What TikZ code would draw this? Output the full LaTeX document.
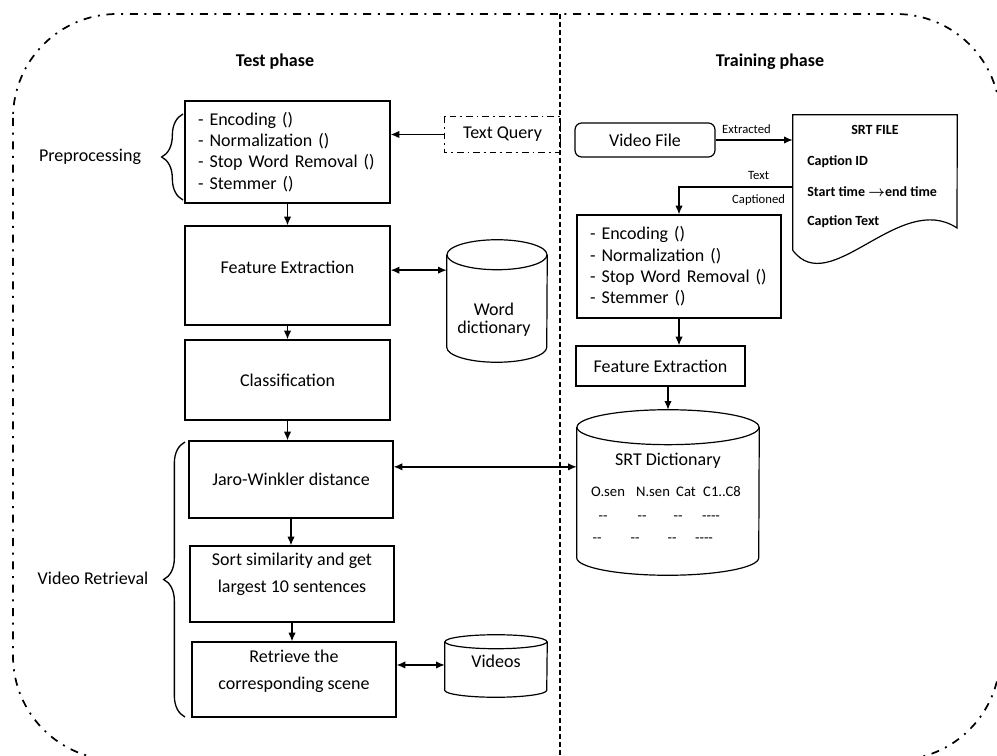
\documentclass[tikz,border=0pt]{standalone}
\usepackage{amsmath}
\usepackage{fontspec}
\setmainfont{Carlito}
\usepackage[svgnames]{xcolor}
\usepackage{tikz}
\usetikzlibrary{decorations.pathreplacing,arrows.meta}
\tikzstyle{none}=[inner sep=0pt]
\tikzstyle{simple}=[-,draw=Black,line width=0.9pt]
\tikzstyle{box}=[rectangle,draw=Black,inner sep=0pt,line width=0.9pt]
\tikzstyle{listbox}=[box,align=left,inner xsep=9.75pt]
\tikzstyle{flow}=[-{Latex[length=6.5pt,width=5.5pt]},draw=Black,line width=1pt]
\tikzstyle{both}=[{Latex[length=6.5pt,width=5.5pt]}-{Latex[length=6.5pt,width=5.5pt]},draw=Black,line width=1pt]
\tikzstyle{bracket}=[draw=Black,line width=1pt,decorate,decoration={brace,amplitude=16pt}]
\tikzstyle{dashdot}=[draw=Black,line width=1.3pt,dash pattern=on 6pt off 5pt on 1.5pt off 5pt]
\tikzstyle{divider}=[draw=Black,line width=1pt,dash pattern=on 3.5pt off 2.5pt]
\tikzstyle{tiny}=[inner sep=0pt,font=\fontsize{9.5}{11}\selectfont]
\tikzstyle{cell}=[inner sep=0pt,font=\fontsize{11}{13}\selectfont]
\tikzstyle{title}=[inner sep=0pt,font=\fontsize{13.5}{16}\selectfont\bfseries]
\tikzstyle{srt}=[inner sep=0pt,anchor=west,font=\fontsize{10.5}{12}\selectfont\bfseries]
% cylinder drawn round an empty node: #1 node, #2 x radius, #3 y radius
\newcommand{\drum}[3]{%
  \draw [style=simple] ([yshift=-#3]#1.north west) -- ([yshift=#3]#1.south west)
    arc [start angle=180,end angle=360,x radius=#2,y radius=#3] -- ([yshift=-#3]#1.north east);
  \draw [style=simple] ([yshift=-#3]#1.north) ellipse [x radius=#2,y radius=#3];}

\begin{document}
\begin{tikzpicture}[x=0.75pt,y=-0.75pt,every node/.style={font=\fontsize{13.5}{16}\selectfont}]
  \useasboundingbox (0,0) rectangle (997,756);
  % frame and split
  \draw [style=dashdot,rounded corners=78pt] (13,14) rectangle (1000,760);
  \draw [style=divider] (560,14) -- (560,756);
  \node [style=title] (0) at (275,62) {Test phase};
  \node [style=title] (1) at (770,62) {Training phase};
  % test phase
  \node [style=listbox,text width=134.25pt,minimum height=76.5pt] (2) at (287.5,152) {- Encoding ()\\- Normalization ()\\- Stop Word Removal ()\\- Stemmer ()};
  \node [style=box,minimum width=153.75pt,minimum height=74.25pt,text depth=13pt] (3) at (287.5,275.5) {Feature Extraction};
  \node [style=box,minimum width=153.75pt,minimum height=60pt] (4) at (287.5,380) {Classification};
  \node [style=box,minimum width=153pt,minimum height=57.75pt] (5) at (291,479.5) {Jaro-Winkler distance};
  \node [style=box,minimum width=153pt,minimum height=57pt,align=center,font=\fontsize{13.5}{20}\selectfont,text depth=17pt] (6) at (292,584) {Sort similarity and get\\largest 10 sentences};
  \node [style=box,minimum width=153pt,minimum height=56.25pt,align=center,font=\fontsize{13.5}{20}\selectfont,text depth=15pt] (7) at (294,679.5) {Retrieve the\\corresponding scene};
  \node [style=box,draw=none,minimum width=86.25pt,minimum height=26.25pt] (8) at (502.5,134.5) {Text Query};
  \draw [draw=Black,line width=1pt,dash pattern=on 5pt off 3pt on 1.2pt off 3pt] (8.north west) rectangle (8.south east);
  \node [style=none,minimum width=75pt,minimum height=91.5pt] (9) at (497,301) {};
  \drum{9}{37.5pt}{11.25pt}
  \node [style=none,align=center,font=\fontsize{13.5}{13.5}\selectfont] (10) at (494,320) {Word\\dictionary};
  \node [style=none,minimum width=76.5pt,minimum height=46.5pt] (11) at (496,666) {};
  \drum{11}{38.25pt}{5.25pt}
  \node [style=none] (12) at (496,661) {Videos};
  \node [style=none] (13) at (90,157) {Preprocessing};
  \node [style=none] (14) at (93,578) {Video Retrieval};
  \draw [style=bracket] (183,200) -- (183,114);
  \draw [style=bracket] (185,717) -- (185,442);
  \draw [style=flow] (8.west) -- (8.west -| 2.east);
  \draw [style=flow] (2.south) -- (2.south |- 3.north);
  \draw [style=flow] (3.south) -- (3.south |- 4.north);
  \draw [style=flow] (4.south) -- (4.south |- 5.north);
  \draw [style=flow] (5.south) -- (5.south |- 6.north);
  \draw [style=flow] (6.south) -- (6.south |- 7.north);
  \draw [style=both] ([yshift=4pt]3.east) -- ([yshift=4pt]3.east -| 9.west);
  \draw [style=both] ([yshift=10.9pt]7.east) -- ([yshift=10.9pt]7.east -| 11.west);
  % training phase
  \node [style=box,rounded corners=5pt,minimum width=105pt,minimum height=25.5pt] (15) at (645,140) {Video File};
  \node [style=none,minimum width=123pt,minimum height=101.25pt] (16) at (875,182.5) {};
  \draw [style=simple] (16.south west) -- (16.north west) -- (16.north east) -- (957,228) .. controls (900,190) and (830,300) .. (16.south west);
  \node [style=title,font=\fontsize{10.5}{12}\selectfont\bfseries] (17) at (875,130) {SRT FILE};
  \node [style=srt] (18) at (807,162) {Caption ID};
  \node [style=srt] (19) at (807,192) {Start time $\boldsymbol{\rightarrow}$end time};
  \node [style=srt] (20) at (807,222) {Caption Text};
  \node [style=listbox,text width=133.5pt,minimum height=77.25pt] (21) at (679,266.5) {- Encoding ()\\- Normalization ()\\- Stop Word Removal ()\\- Stemmer ()};
  \node [style=box,minimum width=126.75pt,minimum height=30pt] (22) at (660.5,366) {Feature Extraction};
  \node [style=none,minimum width=136.5pt,minimum height=123.75pt] (23) at (668,492.5) {};
  \drum{23}{68.25pt}{13.1pt}
  \node [style=none] (24) at (668,461) {SRT Dictionary};
  \node [style=cell] (25) at (608,492) {O.sen};
  \node [style=cell] (26) at (653,492) {N.sen};
  \node [style=cell] (27) at (686,492) {Cat};
  \node [style=cell] (28) at (722,492) {C1..C8};
  \node [style=cell] (29) at (603,518) {-{}-};
  \node [style=cell] (30) at (642,518) {-{}-};
  \node [style=cell] (31) at (678,518) {-{}-};
  \node [style=cell] (32) at (711,518) {-{}-{}-{}-};
  \node [style=cell] (33) at (597,540) {-{}-};
  \node [style=cell] (34) at (635,540) {-{}-};
  \node [style=cell] (35) at (672,540) {-{}-};
  \node [style=cell] (36) at (704,540) {-{}-{}-{}-};
  \draw [style=flow] (15.east) -- (15.east -| 16.west) node [style=tiny,pos=0.4,above=4pt] {Extracted};
  \draw [style=flow] ([yshift=-3.5pt]16.west) -| (21.north) node [style=tiny,pos=0.15,above=5pt] {Text} node [style=tiny,pos=0.15,below=5pt] {Captioned};
  \draw [style=flow] (21.south) -- (21.south |- 22.north);
  \draw [style=flow] (22.south -| 23.north) -- (23.north);
  \draw [style=both] ([yshift=9.5pt]5.east) -- ([yshift=9.5pt]5.east -| 23.west);
\end{tikzpicture}
\end{document}
